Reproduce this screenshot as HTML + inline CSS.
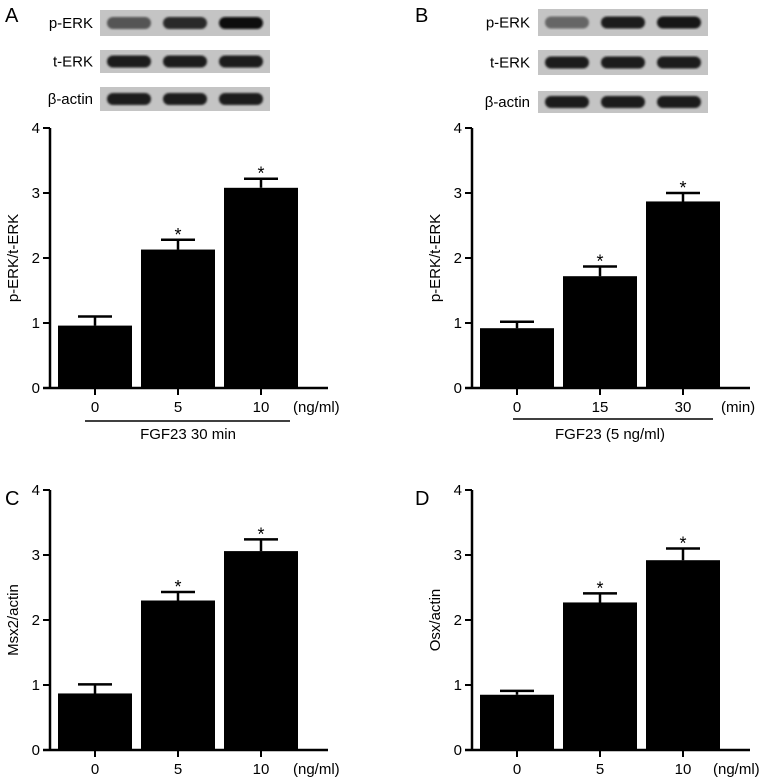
<!DOCTYPE html>
<html><head><meta charset="utf-8"><style>
html,body{margin:0;padding:0;background:#fff;}
svg{display:block;font-family:"Liberation Sans",Arial,sans-serif;}
</style></head><body>
<svg id="fig" width="765" height="783" viewBox="0 0 765 783">
<defs><filter id="blur"><feGaussianBlur stdDeviation="1"/></filter></defs>
</svg>
<script>
const NS="http://www.w3.org/2000/svg";
const svg=document.getElementById('fig');
function mk(tag,attrs,parent,text){const e=document.createElementNS(NS,tag);for(const k in attrs)e.setAttribute(k,attrs[k]);if(text!==undefined)e.textContent=text;(parent||svg).appendChild(e);return e;}

const yTicks=[0,1,2,3,4];
const catsA=["0","5","10"];
const valsA=[0.96,2.13,3.08];
const errA=[0.14,0.15,0.14];
const catsB=["0","15","30"];
const valsB=[0.92,1.72,2.87];
const errB=[0.10,0.15,0.13];
const catsC=["0","5","10"];
const valsC=[0.87,2.30,3.06];
const errC=[0.14,0.13,0.18];
const catsD=["0","5","10"];
const valsD=[0.85,2.27,2.92];
const errD=[0.06,0.14,0.18];
const sigA=[false,true,true], sigB=[false,true,true], sigC=[false,true,true], sigD=[false,true,true];

function panel(id,ax,y0,ytitle,cats,vals,errs,sig,unit,unitX){
  const g=mk('g',{},svg);
  
  
  const yMax=4, h=260;
  const ys=v=>y0-v/yMax*h;
  const band=83, x0=ax+8, bw=74;
  const xc=i=>x0+i*band+bw/2;
  vals.forEach((v,i)=>{
    const r=mk('rect',{x:x0+i*band,y:ys(v),width:bw,height:y0-ys(v),fill:'#000'},g);
    
    
    const top=ys(v+errs[i]);
    const e=mk('path',{d:`M${xc(i)} ${ys(v)}V${top}M${xc(i)-17} ${top}H${xc(i)+17}`,stroke:'#000','stroke-width':2.5,fill:'none'},g);
    
    
    if(sig[i]){
      const s=mk('text',{x:xc(i),y:top+1,'text-anchor':'middle','font-size':18},g,'*');
      
      
    }
  });
  const ya=mk('path',{d:`M${ax} ${ys(4)}V${y0}`,stroke:'#000','stroke-width':2.5},g);
  
  
  const xa=mk('path',{d:`M${ax-7} ${y0}H${ax+278}`,stroke:'#000','stroke-width':2.5},g);
  
  
  yTicks.forEach(t=>{
    mk('path',{d:`M${ax-7} ${ys(t)}H${ax}`,stroke:'#000','stroke-width':2},g);
    const l=mk('text',{x:ax-10,y:ys(t)+5,'text-anchor':'end','font-size':15},g,String(t));
    
    
  });
  cats.forEach((c,i)=>{
    mk('path',{d:`M${xc(i)} ${y0}V${y0+7}`,stroke:'#000','stroke-width':2},g);
    const l=mk('text',{x:xc(i),y:y0+24,'text-anchor':'middle','font-size':15},g,c);
    
    
  });
  const u=mk('text',{x:unitX,y:y0+24,'font-size':15},g,unit);
  
  
  const yt=mk('text',{transform:`translate(${ax-32},${y0-130}) rotate(-90)`,'text-anchor':'middle','font-size':15},g,ytitle);
  
  
  return {xc,y0};
}

function blots(id,lx,bx,rows,intens){
  rows.forEach((r,ri)=>{
    const y=r.y;
    const bg=mk('rect',{x:bx,y:y,width:170,height:r.h,fill:'#c4c4c4'},svg);
    
    
    [0,1,2].forEach(j=>{
      mk('rect',{x:bx+7+j*56,y:y+r.h/2-6,width:44,height:12,rx:6,fill:intens[ri][j],filter:'url(#blur)'},svg);
    });
    const t=mk('text',{x:lx,y:y+r.h/2+5,'text-anchor':'end','font-size':15},svg,r.label);
    
    
  });
}
const dark='#1a1a1a';
blots('a',93,100,[{y:10,h:26,label:'p-ERK'},{y:50,h:23,label:'t-ERK'},{y:87,h:24,label:'β-actin'}],
  [['#555','#2a2a2a','#111'],[dark,dark,dark],[dark,dark,dark]]);
blots('b',530,538,[{y:9,h:27,label:'p-ERK'},{y:50,h:25,label:'t-ERK'},{y:91,h:22,label:'β-actin'}],
  [['#666','#1c1c1c','#151515'],[dark,dark,dark],[dark,dark,dark]]);

panel('a',50,388,'p-ERK/t-ERK',catsA,valsA,errA,sigA,'(ng/ml)',293);
panel('b',472,388,'p-ERK/t-ERK',catsB,valsB,errB,sigB,'(min)',721);
panel('c',50,750,'Msx2/actin',catsC,valsC,errC,sigC,'(ng/ml)',293);
panel('d',472,750,'Osx/actin',catsD,valsD,errD,sigD,'(ng/ml)',713);

let l1=mk('path',{d:'M85 421H290',stroke:'#000','stroke-width':1.5});

let t1=mk('text',{x:188,y:439,'text-anchor':'middle','font-size':15},svg,'FGF23 30 min');

let l2=mk('path',{d:'M513 419H713',stroke:'#000','stroke-width':1.5});

let t2=mk('text',{x:610,y:439,'text-anchor':'middle','font-size':15},svg,'FGF23 (5 ng/ml)');


[['A',5,22],['B',415,22],['C',5,505],['D',415,505]].forEach(([s,x,y])=>{
  const t=mk('text',{x:x,y:y,'font-size':20},svg,s);
  
  
});
</script>
</body></html>
